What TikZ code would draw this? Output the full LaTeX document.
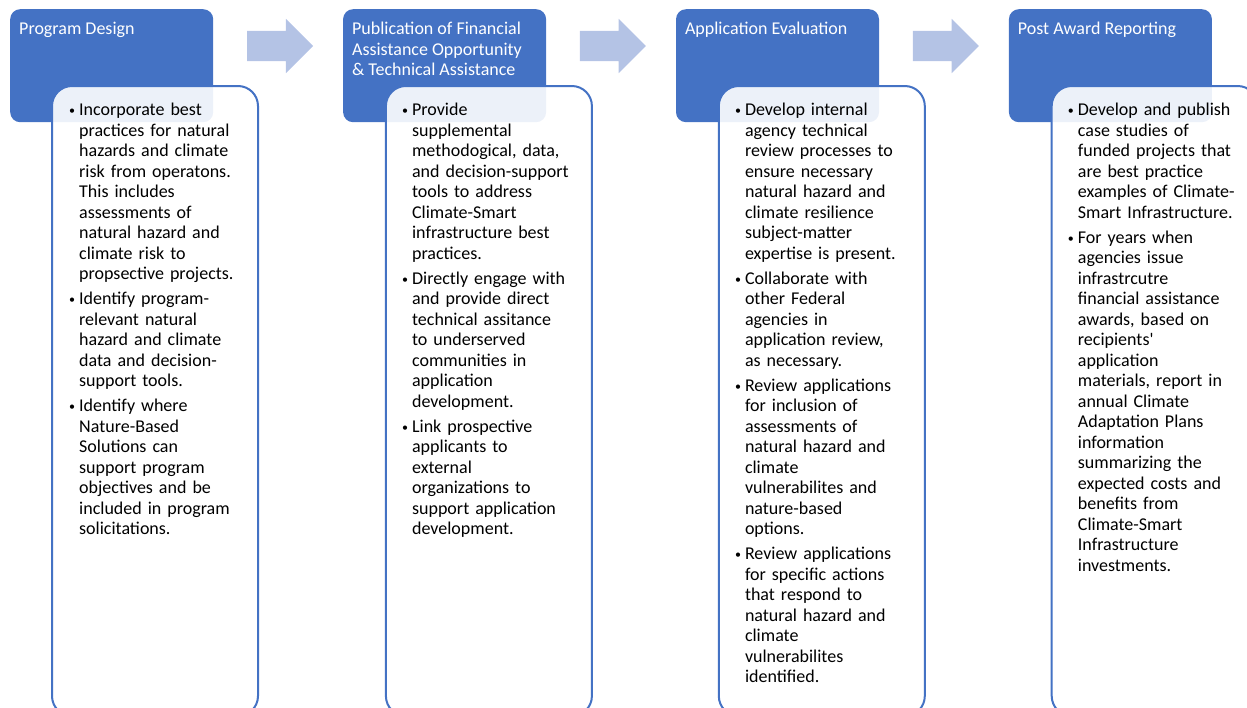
\documentclass[tikz,border=0pt]{standalone}
\usepackage{fontspec}
\setmainfont{Carlito}
\usepackage{tikz}
\usetikzlibrary{positioning,shapes.arrows}
\definecolor{stageblue}{HTML}{4472C4}
\definecolor{flowblue}{HTML}{B4C3E5}
\newcommand{\itm}[1]{\noindent\hangindent=10pt\hangafter=1\makebox[10pt][l]{\raisebox{1pt}{\fontsize{12}{12}\selectfont\textbullet}}#1\par\vspace{4.5pt}}

\begin{document}
\begin{tikzpicture}[x=1pt, y=-1pt,
	every node/.style={font=\fontsize{18}{20.5}\selectfont, inner sep=0pt},
	stagehead/.style={fill=stageblue, rounded corners=10pt, minimum width=203pt, minimum height=113pt},
	stagebody/.style={draw=stageblue, line width=2pt, fill=white, fill opacity=0.9, rounded corners=20pt, minimum width=206pt, minimum height=630pt, anchor=north west},
	stagetitle/.style={text=white, align=left, anchor=north west},
	stagelist/.style={text width=195pt, align=left, anchor=north west},
	flowarrow/.style={single arrow, fill=flowblue, inner ysep=15pt, single arrow head extend=12pt, single arrow tip angle=90, minimum height=66pt}]

	% Frame
	\useasboundingbox (0,0) rectangle (1247,707);
	\clip (0,0) rectangle (1247,707);

	% Stage headers
	\node[stagehead, anchor=north west] (h1) at (10,9) {};
	\node[stagehead, right=129.5pt of h1] (h2) {};
	\node[stagehead, right=129.5pt of h2] (h3) {};
	\node[stagehead, right=129.5pt of h3] (h4) {};

	% Arrows between stages
	\node[flowarrow] (a1) at ([shift={(59,37)}]h1.north east) {};
	\node[flowarrow] (a2) at ([shift={(59,37)}]h2.north east) {};
	\node[flowarrow] (a3) at ([shift={(59,37)}]h3.north east) {};

	% Stage bodies
	\node[stagebody] (b1) at ([shift={(41,76)}]h1.north west) {};
	\node[stagebody] (b2) at ([shift={(42,76)}]h2.north west) {};
	\node[stagebody] (b3) at ([shift={(42,76)}]h3.north west) {};
	\node[stagebody] (b4) at ([shift={(42,76)}]h4.north west) {};

	% Titles
	\node[stagetitle] (t1) at ([shift={(9,13)}]h1.north west) {Program Design};
	\node[stagetitle] (t2) at ([shift={(9,13)}]h2.north west) {Publication of Financial\\Assistance Opportunity\\\& Technical Assistance};
	\node[stagetitle] (t3) at ([shift={(9,13)}]h3.north west) {Application Evaluation};
	\node[stagetitle] (t4) at ([shift={(9,13)}]h4.north west) {Post Award Reporting};

	% Bullet lists
	\node[stagelist] (l1) at ([shift={(18,18)}]b1.north west) {%
		\itm{Incorporate best\newline practices for natural\newline hazards and climate\newline risk from operatons.\newline This includes\newline assessments of\newline natural hazard and\newline climate risk to\newline propsective projects.}
		\itm{Identify program-\newline relevant natural\newline hazard and climate\newline data and decision-\newline support tools.}
		\itm{Identify where\newline Nature-Based\newline Solutions can\newline support program\newline objectives and be\newline included in program\newline solicitations.}};
	\node[stagelist] (l2) at ([shift={(17,18)}]b2.north west) {%
		\itm{Provide\newline supplemental\newline methodogical, data,\newline and decision-support\newline tools to address\newline Climate-Smart\newline infrastructure best\newline practices.}
		\itm{Directly engage with\newline and provide direct\newline technical assitance\newline to underserved\newline communities in\newline application\newline development.}
		\itm{Link prospective\newline applicants to\newline external\newline organizations to\newline support application\newline development.}};
	\node[stagelist] (l3) at ([shift={(17,18)}]b3.north west) {%
		\itm{Develop internal\newline agency technical\newline review processes to\newline ensure necessary\newline natural hazard and\newline climate resilience\newline subject-matter\newline expertise is present.}
		\itm{Collaborate with\newline other Federal\newline agencies in\newline application review,\newline as necessary.}
		\itm{Review applications\newline for inclusion of\newline assessments of\newline natural hazard and\newline climate\newline vulnerabilites and\newline nature-based\newline options.}
		\itm{Review applications\newline for specific actions\newline that respond to\newline natural hazard and\newline climate\newline vulnerabilites\newline identified.}};
	\node[stagelist] (l4) at ([shift={(17,18)}]b4.north west) {%
		\itm{Develop and publish\newline case studies of\newline funded projects that\newline are best practice\newline examples of Climate-\newline Smart Infrastructure.}
		\itm{For years when\newline agencies issue\newline infrastrcutre\newline financial assistance\newline awards, based on\newline recipients\textquotesingle\newline application\newline materials, report in\newline annual Climate\newline Adaptation Plans\newline information\newline summarizing the\newline expected costs and\newline benefits from\newline Climate-Smart\newline Infrastructure\newline investments.}};
\end{tikzpicture}
\end{document}
